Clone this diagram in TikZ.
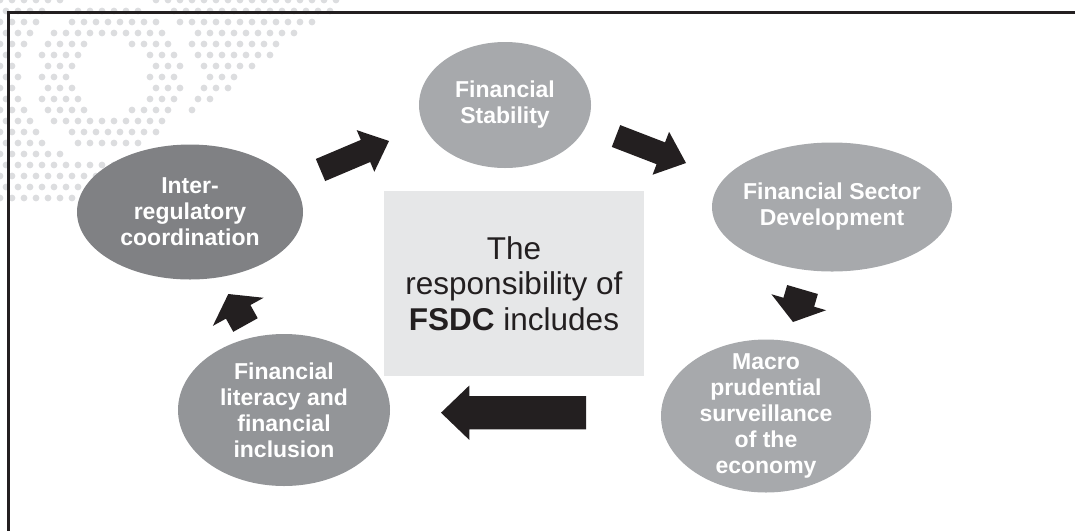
\documentclass[tikz,border=0pt]{standalone}
\usepackage{fontspec}
\setmainfont{Liberation Sans}
\usetikzlibrary{calc,shapes.geometric}

\definecolor{ink}{HTML}{231F20}
\definecolor{darkgrey}{HTML}{808184}
\definecolor{midgrey}{HTML}{939598}
\definecolor{lightgrey}{HTML}{A7A9AC}
\definecolor{boxgrey}{HTML}{E6E7E8}
\definecolor{dotgrey}{HTML}{DCDDDF}

% block arrow from tail to tip: shaft half width, head half width, head length
\newcommand{\blockarrow}[5]{%
  \coordinate (head base) at ($(#2)!#5pt!(#1)$);
  \fill[ink] ($(#1)!#3pt!90:(#2)$) -- ($(head base)!#3pt!90:(#2)$)
    -- ($(head base)!#4pt!90:(#2)$) -- (#2)
    -- ($(head base)!#4pt!-90:(#2)$) -- ($(head base)!#3pt!-90:(#2)$)
    -- ($(#1)!#3pt!-90:(#2)$) -- cycle;
}

\begin{document}
\begin{tikzpicture}[
	x=1pt, y=-1pt,
	topic/.style={
		ellipse,
		fill=lightgrey,
		inner sep=0pt
		},
	dark/.style={
		fill=darkgrey
	},
	mid/.style={
		fill=midgrey
	},
	topictext/.style={
		text=white,
		align=center,
		inner sep=0pt,
		font=\fontsize{23}{26}\selectfont\bfseries
	},
	hub/.style={
		rectangle,
		fill=boxgrey,
		text=ink,
		align=center,
		inner sep=0pt,
		minimum width=260,
		minimum height=185,
		font=\fontsize{31.5}{35.5}\selectfont
	},
	frame/.style={draw=ink, line width=2.8pt}
]
\useasboundingbox (0,0) rectangle (1075,531);

% Dot pattern
\foreach \i in {0,...,30} {
	\foreach \j in {0,...,18} {
		\pgfmathsetmacro\dotx{\i*12+mod(\j,2)*6}
		\pgfmathsetmacro\doty{\j*11}
		\pgfmathsetmacro\dotr{veclen(\dotx-110,\doty-77)}
		\pgfmathtruncatemacro\keep{(\dotx+1.3*\doty<345) && (\dotr>38) && (\dotr<74 || \dotr>88) ? 1 : 0}
		\ifnum\keep=1 \fill[dotgrey] (\dotx,\doty) circle (3.4); \fi
	}
}

% Frame
\draw[frame] (1075,12.5) -- (8.7,12.5) -- (8.7,531);

% Topics
\node [topic, minimum width=172, minimum height=126] (Stability) at (505,105) {};
\node [topictext] (Stability text) at (Stability) {Financial\\Stability};
\node [topic, minimum width=240, minimum height=129] (Development) at (832,207) {};
\node [topictext] (Development text) at (Development) {Financial Sector\\Development};
\node [topic, minimum width=210, minimum height=153] (Macro) at (766,416) {};
\node [topictext] (Macro text) at (Macro) {Macro\\prudential\\surveillance\\of the\\economy};
\node [topic, mid, minimum width=212, minimum height=152] (Literacy) at (284,410) {};
\node [topictext] (Literacy text) at (Literacy) {Financial\\literacy and\\financial\\inclusion};
\node [topic, dark, minimum width=226, minimum height=135] (Coordination) at (190,212) {};
\node [topictext] (Coordination text) at (Coordination) {Inter-\\regulatory\\coordination};

% Centre
\node [hub] (FSDC) at (514,283.5) {The\\responsibility of\\\textbf{FSDC} includes};

% Arrows
\coordinate (Arrow 1 tail) at (320.5,170);
\coordinate (Arrow 1 tip) at (389,141);
\blockarrow{Arrow 1 tail}{Arrow 1 tip}{12}{22.6}{25.5}
\coordinate (Arrow 2 tail) at (616,136);
\coordinate (Arrow 2 tip) at (686,163);
\blockarrow{Arrow 2 tail}{Arrow 2 tip}{11.7}{23}{27}
\coordinate (Arrow 3 tail) at (802.5,289.5);
\coordinate (Arrow 3 tip) at (793,322);
\blockarrow{Arrow 3 tail}{Arrow 3 tip}{16}{28.5}{20.6}
\coordinate (Arrow 4 tail) at (586,412.7);
\coordinate (Arrow 4 tip) at (441,412.7);
\blockarrow{Arrow 4 tail}{Arrow 4 tip}{16.7}{27.2}{28.3}
\coordinate (Arrow 5 tail) at (245.5,325);
\coordinate (Arrow 5 tip) at (228.3,294);
\blockarrow{Arrow 5 tail}{Arrow 5 tip}{14}{29}{20.4}

\end{tikzpicture}
\end{document}
